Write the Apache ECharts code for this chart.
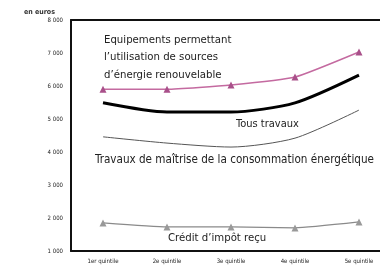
<!DOCTYPE html>
<html>
<head>
<meta charset="utf-8">
<script src="https://cdn.jsdelivr.net/npm/echarts@6/dist/echarts.min.js"></script>
<style>
html,body{margin:0;padding:0;background:#fff;}
#chart{width:380px;height:269px;}
</style>
</head>
<body>
<div id="chart"></div>
<script>
var categories = ['1er quintile','2e quintile','3e quintile','4e quintile','5e quintile'];
var renouvelable = [5900, 5900, 6030, 6270, 7030];
var tousTravaux = [5490, 5210, 5210, 5490, 6330];
var maitrise = [4460, 4270, 4150, 4420, 5270];
var credit = [1850, 1730, 1730, 1700, 1880];
var yTicks = [1000, 2000, 3000, 4000, 5000, 6000, 7000, 8000];

var font = "'Liberation Sans Narrow','DejaVu Sans Condensed',sans-serif";
var chart = echarts.init(document.getElementById('chart'));

function fmt(v){
	return String(v).replace(/\B(?=(\d{3})+(?!\d))/g, ' ');
}

chart.setOption({
	animation: false,
	grid: {left: 71, top: 20, width: 320, bottom: 18, outerBoundsMode: 'none', containLabel: false},
	title: {
		text: 'en euros', left: 19, top: 4,
		textStyle: {fontSize: 7, fontWeight: 'bold', color: '#333', fontFamily: font}
	},
	xAxis: [{
		type: 'category',
		data: categories,
		axisLine: {lineStyle: {color: '#111', width: 2}},
		axisTick: {show: false},
		axisLabel: {fontSize: 6, color: '#222', fontFamily: font, margin: 7}
	},{
		type: 'category',
		position: 'top',
		data: categories,
		axisLine: {lineStyle: {color: '#111', width: 2}},
		axisTick: {show: false},
		axisLabel: {show: false}
	}],
	yAxis: {
		type: 'value',
		min: yTicks[0], max: yTicks[yTicks.length-1], interval: 1000,
		axisLine: {show: true, lineStyle: {color: '#111', width: 2}},
		axisTick: {show: false},
		splitLine: {show: false},
		axisLabel: {fontSize: 6, color: '#222', fontFamily: font, margin: 8, formatter: fmt}
	},
	series: [{
		name: 'Equipements', type: 'line', data: renouvelable, smooth: 0.15,
		symbol: 'triangle', symbolSize: 7,
		lineStyle: {color: '#c46aa0', width: 1.5},
		itemStyle: {color: '#a9508a'}
	},{
		name: 'Tous travaux', type: 'line', data: tousTravaux, smooth: 0.25,
		symbol: 'none', lineStyle: {color: '#000', width: 3}
	},{
		name: 'Maitrise', type: 'line', data: maitrise, smooth: 0.25,
		symbol: 'none', lineStyle: {color: '#555', width: 1}
	},{
		name: 'Credit', type: 'line', data: credit, smooth: 0.15,
		symbol: 'triangle', symbolSize: 7,
		lineStyle: {color: '#8a8a8a', width: 1.2},
		itemStyle: {color: '#999'}
	}],
	graphic: [{
		type: 'text', left: 104, top: 31,
		style: {text: 'Equipements permettant\nl\u2019utilisation de sources\nd\u2019énergie renouvelable', fontSize: 11.3, lineHeight: 17.5, fill: '#222', fontFamily: font}
	},{
		type: 'text', left: 236, top: 119,
		style: {text: 'Tous travaux', fontSize: 11, fill: '#222', fontFamily: font}
	},{
		type: 'text', left: 95, top: 154,
		style: {text: 'Travaux de maîtrise de la consommation énergétique', fontSize: 11.6, fill: '#222', fontFamily: font}
	},{
		type: 'text', left: 168, top: 233,
		style: {text: 'Crédit d\u2019impôt reçu', fontSize: 11.3, fill: '#222', fontFamily: font}
	}]
});
</script>
</body>
</html>
